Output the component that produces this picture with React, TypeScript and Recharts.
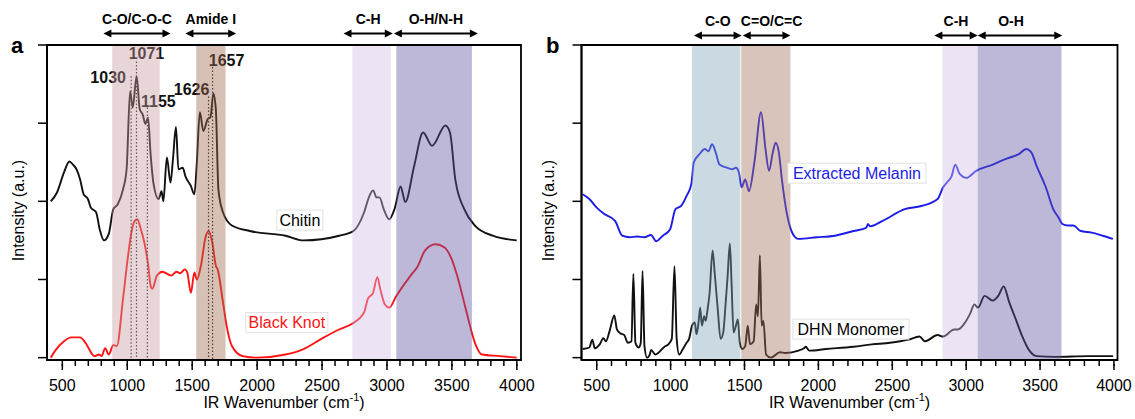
import React from 'react';
import {
  LineChart,
  Line,
  XAxis,
  YAxis,
  ReferenceArea,
  ReferenceLine,
  ReferenceDot,
} from 'recharts';

const FONT = '"Liberation Sans", Arial, Helvetica, sans-serif';

// ---------- panel a : chitin vs black knot (wavenumber cm-1 / intensity a.u.) ----------
const chitinWn = [
  411, 458, 513, 554, 582, 609, 637, 664, 697, 719, 760, 788, 821, 857, 893, 926, 967, 995,
  1022, 1042, 1072, 1096, 1119, 1140, 1160, 1180, 1201, 1242, 1264, 1278, 1305, 1333, 1352,
  1375, 1394, 1427, 1448, 1489, 1517, 1536, 1559, 1586, 1619, 1641, 1663, 1682, 1702, 1737,
  1806, 1944, 2219, 2357, 2632, 2742, 2824, 2865, 2893, 2920, 2942, 2975, 3017, 3058, 3105,
  3141, 3209, 3278, 3347, 3450, 3485, 3526, 3595, 3677, 3815, 3999,
];
const chitinInt = [
  2.0, 2.11, 2.37, 2.51, 2.47, 2.41, 2.28, 2.09, 2.03, 1.92, 1.86, 1.64, 1.5, 1.58, 1.9, 1.96,
  2.15, 2.41, 3.41, 3.2, 3.6, 3.18, 3.11, 2.99, 3.07, 2.6, 2.24, 2.03, 2.13, 2.0, 2.56, 2.24,
  2.54, 2.95, 2.41, 2.43, 2.32, 2.2, 2.09, 2.5, 3.14, 2.9, 3.05, 3.08, 3.38, 3.18, 2.15, 1.86,
  1.69, 1.62, 1.56, 1.5, 1.56, 1.62, 1.86, 2.07, 2.14, 2.05, 2.05, 1.9, 1.77, 1.9, 2.19, 1.99,
  2.45, 2.88, 2.71, 2.97, 2.88, 2.28, 1.9, 1.69, 1.56, 1.5,
];
const knotWn = [
  411, 445, 513, 568, 637, 678, 747, 783, 802, 830, 857, 893, 920, 967, 1003, 1036, 1058, 1077,
  1105, 1132, 1160, 1180, 1193, 1228, 1270, 1338, 1380, 1407, 1443, 1462, 1490, 1517, 1536,
  1572, 1600, 1627, 1655, 1683, 1696, 1737, 1765, 1806, 1889, 1999, 2219, 2357, 2494, 2632,
  2728, 2824, 2852, 2893, 2926, 2948, 2984, 3017, 3072, 3182, 3237, 3292, 3374, 3443, 3498,
  3540, 3580, 3622, 3677, 3732, 3870, 3999,
];
const knotInt = [
  0.0, 0.09, 0.21, 0.26, 0.26, 0.19, 0.02, 0.04, 0.02, 0.12, 0.04, 0.16, 0.15, 0.75, 1.26, 1.64,
  1.75, 1.77, 1.64, 1.47, 1.2, 0.92, 0.88, 1.05, 1.1, 1.05, 1.1, 1.08, 1.13, 1.09, 0.83, 1.09,
  1.0, 1.22, 1.52, 1.62, 1.47, 1.17, 1.13, 0.71, 0.41, 0.15, 0.02, 0.0, 0.04, 0.11, 0.24, 0.36,
  0.43, 0.58, 0.75, 0.83, 1.03, 0.88, 0.68, 0.64, 0.79, 1.05, 1.17, 1.37, 1.45, 1.41, 1.26,
  1.05, 0.8, 0.52, 0.19, 0.04, 0.02, 0.0,
];

// ---------- panel b : extracted melanin vs DHN monomer ----------
const melaninWn = [
  405, 450, 500, 549, 624, 673, 723, 773, 822, 867, 902, 947, 996, 1033, 1051, 1070, 1108, 1140,
  1157, 1194, 1231, 1256, 1281, 1306, 1331, 1380, 1417, 1442, 1462, 1480, 1505, 1530, 1567,
  1612, 1642, 1666, 1691, 1711, 1733, 1753, 1785, 1828, 1865, 1989, 2112, 2237, 2323, 2336,
  2349, 2435, 2584, 2696, 2807, 2844, 2869, 2901, 2926, 2956, 3001, 3068, 3180, 3279, 3353,
  3408, 3440, 3477, 3539, 3589, 3626, 3651, 3688, 3725, 3775, 3849, 3924, 3993,
];
const melaninInt = [
  2.09, 2.03, 1.92, 1.84, 1.75, 1.56, 1.54, 1.55, 1.54, 1.57, 1.49, 1.56, 1.64, 1.9, 1.92, 1.94,
  2.07, 2.22, 2.5, 2.6, 2.67, 2.64, 2.73, 2.62, 2.47, 2.43, 2.41, 2.43, 2.37, 2.18, 2.28, 2.13,
  2.5, 3.14, 2.67, 2.39, 2.62, 2.75, 2.62, 2.28, 1.86, 1.58, 1.52, 1.54, 1.56, 1.62, 1.66, 1.71,
  1.68, 1.75, 1.9, 1.94, 2.03, 2.18, 2.24, 2.32, 2.47, 2.35, 2.3, 2.39, 2.47, 2.55, 2.6, 2.67,
  2.63, 2.45, 2.18, 1.9, 1.79, 1.71, 1.69, 1.69, 1.62, 1.6, 1.56, 1.52,
];
const dhnWn = [
  405, 450, 470, 487, 520, 545, 562, 587, 619, 637, 661, 686, 711, 735, 748, 762, 785, 798, 810,
  823, 840, 859, 868, 897, 959, 984, 1008, 1026, 1041, 1058, 1083, 1108, 1125, 1145, 1164, 1175,
  1189, 1200, 1212, 1227, 1237, 1249, 1264, 1284, 1298, 1319, 1338, 1356, 1373, 1386, 1401,
  1413, 1426, 1442, 1455, 1468, 1485, 1505, 1522, 1537, 1562, 1579, 1591, 1604, 1616, 1628,
  1646, 1678, 1740, 1777, 1865, 1902, 1914, 1939, 2051, 2237, 2361, 2485, 2609, 2684, 2721,
  2807, 2844, 2919, 2944, 2993, 3026, 3056, 3080, 3125, 3180, 3217, 3254, 3291, 3328, 3378,
  3428, 3477, 3601, 3825, 3994,
];
const dhnInt = [
  0.11, 0.13, 0.23, 0.12, 0.17, 0.25, 0.21, 0.34, 0.54, 0.36, 0.31, 0.29, 0.19, 0.21, 1.07, 0.19,
  0.13, 0.19, 1.11, 0.15, 0.0, 0.04, 0.1, 0.04, 0.14, 0.17, 0.24, 1.17, 0.24, 0.04, 0.11, 0.19,
  0.24, 0.41, 0.45, 0.3, 0.45, 0.64, 0.41, 0.53, 0.47, 0.6, 0.83, 1.37, 1.09, 0.62, 0.24, 0.32,
  0.71, 1.05, 1.46, 0.92, 0.32, 0.41, 0.49, 0.19, 0.11, 0.15, 0.41, 0.17, 0.21, 0.68, 0.53, 1.31,
  0.41, 0.47, 0.04, 0.0, 0.07, 0.06, 0.09, 0.12, 0.14, 0.09, 0.11, 0.14, 0.17, 0.19, 0.23, 0.27,
  0.21, 0.29, 0.27, 0.36, 0.36, 0.45, 0.56, 0.68, 0.64, 0.79, 0.73, 0.79, 0.91, 0.71, 0.53, 0.28,
  0.09, 0.02, 0.01, 0.02, 0.02,
];

// axis ticks
const yTicks = [0, 1, 2, 3, 4];
const xTicks = [
  500, 600, 700, 800, 900, 1000, 1100, 1200, 1300, 1400, 1500, 1600, 1700, 1800, 1900, 2000,
  2100, 2200, 2300, 2400, 2500, 2600, 2700, 2800, 2900, 3000, 3100, 3200, 3300, 3400, 3500,
  3600, 3700, 3800, 3900, 4000,
];
const xLabels = [500, 1000, 1500, 2000, 2500, 3000, 3500, 4000];

// vibrational bands (cm-1)
const bandNamesA = ['C-O/C-O-C', 'Amide I', 'C-H', 'O-H/N-H'];
const bandFromA = [884, 1531, 2733, 3072];
const bandToA = [1250, 1757, 3030, 3654];
const arrowFromA = [816, 1448, 2665, 3053];
const arrowToA = [1333, 1839, 3045, 3700];
const peaksA = [1030, 1071, 1155, 1626, 1657];

const bandNamesB = ['C-O', 'C=O/C=C', 'C-H', 'O-H'];
const bandFromB = [1144, 1478, 2840, 3078];
const bandToB = [1472, 1811, 3078, 3645];
const arrowFromB = [1158, 1488, 2785, 3078];
const arrowToB = [1480, 1811, 3078, 3650];

// ---------- styling / layout ----------
const bandFillA = ['#c89ca3', '#9f6a4e', '#d1bee4', '#6256a2'];
const bandFillB = ['#83a4ba', '#a4725d', '#d1bee4', '#6256a2'];
const arrowDxB = [0, 5, 0, -9];
const peakTopA = [3.6, 3.79, 3.2, 3.34, 3.72];
const peakDx = [-23, 10, 11, -17, 14];
const peakDy = [7, -2, -1, -2, -1];
const RED = '#ff1414';
const BLUE = '#1c1ce6';

const pts = (wn: number[], v: number[]) => wn.map((w, i) => ({ wn: w, v: v[i] }));

function XTick(props: any) {
  const { x, y, payload } = props;
  const major = xLabels.includes(payload.value);
  if (!major) return <g />;
  return (
    <g>
      <line x1={x} x2={x} y1={y - 2} y2={y + 4} stroke="#000" strokeWidth={1.5} />
      <text x={x} y={y + 25} textAnchor="middle" fontSize={16} fontFamily={FONT} fill="#000">
        {payload.value}
      </text>
    </g>
  );
}

const xTitle = (p: any) => {
  const vb = p.viewBox;
  const cx = vb.x + vb.width / 2;
  return (
    <text x={cx} y={vb.y + 48} textAnchor="middle" fontSize={16} fontFamily={FONT} fill="#000">
      <tspan>IR Wavenumber (cm</tspan>
      <tspan dy={-7} fontSize={11}>-1</tspan>
      <tspan dy={7}>)</tspan>
    </text>
  );
};

const yTitle = (letter: string, letterX: number) => (p: any) => {
  const vb = p.viewBox;
  const cx = 18;
  const cy = vb.y + vb.height / 2 + 8;
  return (
    <g>
      <text
        x={cx}
        y={cy}
        transform={`rotate(-90 ${cx} ${cy})`}
        textAnchor="middle"
        dominantBaseline="central"
        fontSize={16}
        fontFamily={FONT}
        fill="#000"
      >
        Intensity (a.u.)
      </text>
      <text x={letterX} y={53} fontSize={22} fontWeight="bold" fontFamily={FONT} fill="#000">
        {letter}
      </text>
    </g>
  );
};

const arrowShape = (label: string, dx: number) => (p: any) => {
  const { x1, x2, y1 } = p;
  const h = 8;
  const w = 4;
  return (
    <g>
      <line x1={x1 + h - 1} x2={x2 - h + 1} y1={y1} y2={y1} stroke="#000" strokeWidth={2} />
      <polygon points={`${x1},${y1} ${x1 + h},${y1 - w} ${x1 + h},${y1 + w}`} fill="#000" />
      <polygon points={`${x2},${y1} ${x2 - h},${y1 - w} ${x2 - h},${y1 + w}`} fill="#000" />
      <text
        x={(x1 + x2) / 2 + dx}
        y={y1 - 9}
        textAnchor="middle"
        fontSize={14}
        fontWeight="bold"
        fontFamily={FONT}
        fill="#000"
      >
        {label}
      </text>
    </g>
  );
};

const peakShape = (label: string, dx: number, dy: number) => (p: any) => (
  <g>
    <line x1={p.x1} y1={p.y1} x2={p.x2} y2={p.y2} stroke="#222" strokeWidth={1.2} strokeDasharray="1.5 2" />
    <text
      x={p.x1 + dx}
      y={p.y1 + dy}
      textAnchor="middle"
      fontSize={16}
      fontWeight="bold"
      fontFamily={FONT}
      fill="#111"
    >
      {label}
    </text>
  </g>
);

const boxLabel = (text: string, color: string, w: number) => (p: any) => (
  <g>
    <rect x={p.cx - w / 2} y={p.cy - 10} width={w} height={20} fill="#fff" stroke="#e2e2e2" strokeWidth={1} />
    <text x={p.cx} y={p.cy + 6} textAnchor="middle" fontSize={16} fontFamily={FONT} fill={color}>
      {text}
    </text>
  </g>
);

interface PanelProps {
  width: number;
  yWidth: number;
  right: number;
  domain: [number, number];
  letter: string;
  letterX: number;
  children?: React.ReactNode;
  series: { data: { wn: number[]; v: number[] }; color: string }[];
  bands: { from: number[]; to: number[]; fill: string[] };
  arrows: { from: number[]; to: number[]; names: string[]; dx: number[]; y: number };
  labels: { text: string; color: string; w: number; x: number; y: number }[];
}

function Panel(props: PanelProps) {
  const { width, yWidth, right, domain, letter, letterX, series, bands, arrows, labels } = props;
  const yDomain: [number, number] = [-0.03, 4];
  return (
    <LineChart width={width} height={419} margin={{ top: 45, right, bottom: 1, left: 0 }}>
      {series.map((s, i) => (
        <Line
          key={i}
          data={pts(s.data.wn, s.data.v)}
          dataKey="v"
          type="monotone"
          stroke={s.color}
          strokeWidth={1.9}
          dot={false}
          activeDot={false}
          isAnimationActive={false}
        />
      ))}
      {props.children}
      {bands.from.map((f, i) => (
        <ReferenceArea
          key={`band${i}`}
          x1={f}
          x2={bands.to[i]}
          y1={yDomain[0]}
          y2={yDomain[1]}
          fill={bands.fill[i]}
          fillOpacity={0.42}
          stroke="none"
          ifOverflow="hidden"
          zIndex={450}
        />
      ))}
      <ReferenceArea
        x1={domain[0]}
        x2={domain[1]}
        y1={yDomain[0]}
        y2={yDomain[1]}
        fill="none"
        stroke="#000"
        strokeWidth={1.8}
        zIndex={460}
      />
      {arrows.from.map((f, i) => (
        <ReferenceLine
          key={`arr${i}`}
          segment={[
            { x: f, y: arrows.y },
            { x: arrows.to[i], y: arrows.y },
          ]}
          ifOverflow="visible"
          shape={arrowShape(arrows.names[i], arrows.dx[i])}
          zIndex={470}
        />
      ))}
      {labels.map((l, i) => (
        <ReferenceDot
          key={`lab${i}`}
          x={l.x}
          y={l.y}
          r={0}
          ifOverflow="visible"
          shape={boxLabel(l.text, l.color, l.w)}
          zIndex={600}
        />
      ))}
      <XAxis
        dataKey="wn"
        type="number"
        domain={domain}
        allowDataOverflow
        ticks={xTicks}
        interval={0}
        height={58}
        tickSize={6}
        tickMargin={0}
        tick={<XTick />}
        tickLine={{ stroke: '#000', strokeWidth: 1.5 }}
        axisLine={{ stroke: '#000', strokeWidth: 1.8 }}
        label={xTitle}
      />
      <YAxis
        type="number"
        domain={yDomain}
        allowDataOverflow
        ticks={yTicks}
        width={yWidth}
        tickSize={9}
        tickFormatter={() => ''}
        tickLine={{ stroke: '#000', strokeWidth: 1.5 }}
        axisLine={{ stroke: '#000', strokeWidth: 1.8 }}
        label={yTitle(letter, letterX)}
      />
    </LineChart>
  );
}

export default function App() {
  return (
    <div
      style={{
        position: 'absolute',
        left: 0,
        top: 0,
        width: 1135,
        height: 419,
        background: '#fff',
        overflow: 'hidden',
      }}
    >
      <div style={{ position: 'absolute', left: 0, top: 0 }}>
        <Panel
          width={545}
          yWidth={47}
          right={24}
          domain={[382, 4032]}
          letter="a"
          letterX={11}
          series={[
            { data: { wn: chitinWn, v: chitinInt }, color: '#111111' },
            { data: { wn: knotWn, v: knotInt }, color: RED },
          ]}
          bands={{ from: bandFromA, to: bandToA, fill: bandFillA }}
          arrows={{ from: arrowFromA, to: arrowToA, names: bandNamesA, dx: [0, 0, 0, 0], y: 4.148 }}
          labels={[
            { text: 'Chitin', color: '#000', w: 46, x: 2329, y: 1.76 },
            { text: 'Black Knot', color: RED, w: 82, x: 2229, y: 0.45 },
          ]}
        >
          {peaksA.map((wn, i) => (
            <ReferenceLine
              key={`pk${i}`}
              segment={[
                { x: wn, y: peakTopA[i] },
                { x: wn, y: -0.03 },
              ]}
              ifOverflow="visible"
              shape={peakShape(String(wn), peakDx[i], peakDy[i])}
              zIndex={410}
            />
          ))}
        </Panel>
      </div>
      <div style={{ position: 'absolute', left: 530, top: 0 }}>
        <Panel
          width={605}
          yWidth={51.5}
          right={17.5}
          domain={[397, 4024]}
          letter="b"
          letterX={16}
          series={[
            { data: { wn: melaninWn, v: melaninInt }, color: BLUE },
            { data: { wn: dhnWn, v: dhnInt }, color: '#111111' },
          ]}
          bands={{ from: bandFromB, to: bandToB, fill: bandFillB }}
          arrows={{ from: arrowFromB, to: arrowToB, names: bandNamesB, dx: arrowDxB, y: 4.122 }}
          labels={[
            { text: 'Extracted Melanin', color: BLUE, w: 138, x: 2261, y: 2.36 },
            { text: 'DHN Monomer', color: '#000', w: 116, x: 2220, y: 0.365 },
          ]}
        />
      </div>
    </div>
  );
}
